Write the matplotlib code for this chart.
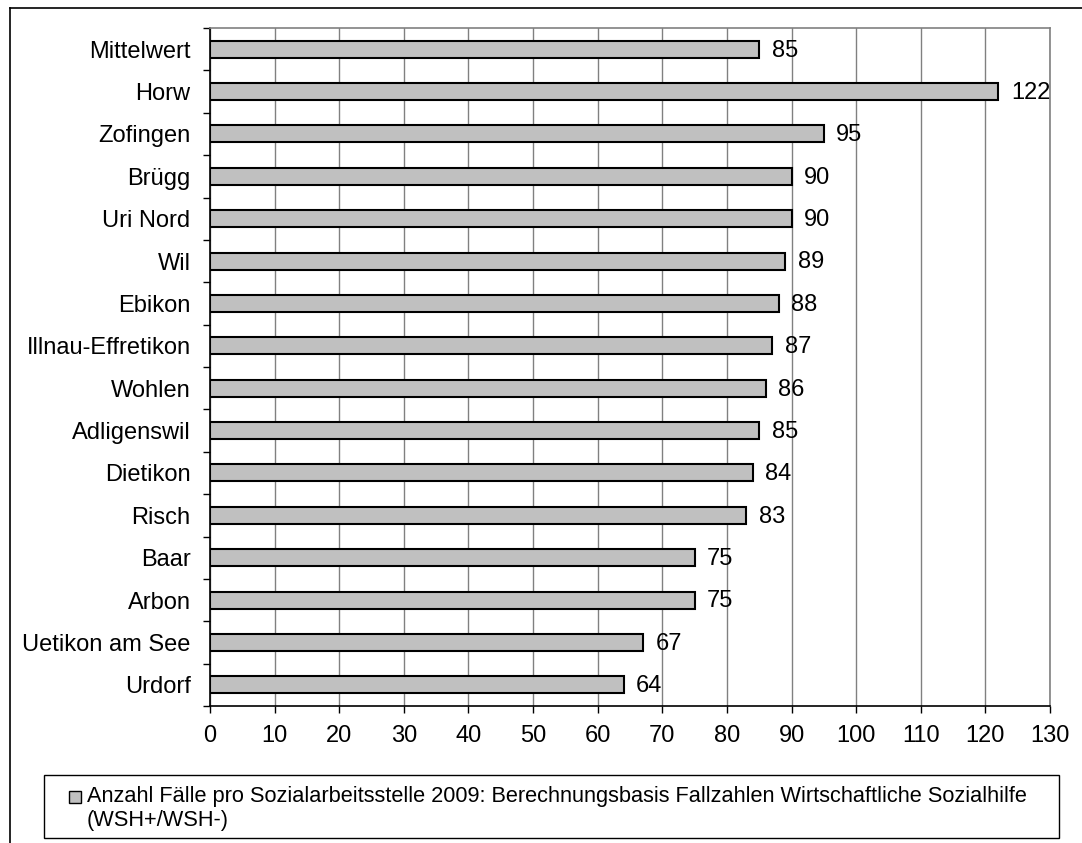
import matplotlib
matplotlib.use("Agg")
import matplotlib.pyplot as plt
from matplotlib.patches import Patch, Rectangle
from matplotlib.lines import Line2D
from matplotlib.legend_handler import HandlerPatch

plt.rcParams['font.family'] = ['Liberation Sans', 'DejaVu Sans']

categories = ["Mittelwert", "Horw", "Zofingen", "Brügg", "Uri Nord", "Wil", "Ebikon",
              "Illnau-Effretikon", "Wohlen", "Adligenswil", "Dietikon", "Risch",
              "Baar", "Arbon", "Uetikon am See", "Urdorf"]
values = [85, 122, 95, 90, 90, 89, 88, 87, 86, 85, 84, 83, 75, 75, 67, 64]
x_ticks = list(range(0, 131, 10))
series_label = ("Anzahl Fälle pro Sozialarbeitsstelle 2009: Berechnungsbasis Fallzahlen "
                "Wirtschaftliche Sozialhilfe\n(WSH+/WSH-)")

W, H = 1082, 843
FS = 17
LEG_FS = 15.7
fig = plt.figure(figsize=(W / 100, H / 100), dpi=100)
fig.patch.set_facecolor("white")

ax_l, ax_r, ax_t, ax_b = 210, 1050, 28, 706
ax = fig.add_axes([ax_l / W, 1 - ax_b / H, (ax_r - ax_l) / W, (ax_b - ax_t) / H])

ypos = list(range(len(categories)))
ax.barh(ypos, values, height=0.4, color="#C0C0C0", edgecolor="black", linewidth=1.5, zorder=3)

for y, v in zip(ypos, values):
    ax.annotate(f"{v}", xy=(v, y), xytext=(9, -1), textcoords="offset points",
                ha="left", va="center", fontsize=FS, color="black", zorder=4)

ax.set_xlim(0, 130)
ax.set_ylim(len(categories) - 0.5, -0.5)
ax.set_xticks(x_ticks)
ax.set_xticklabels([str(t) for t in x_ticks], fontsize=FS)
ax.set_yticks(ypos)
ax.set_yticklabels(categories, fontsize=FS)
ax.set_yticks([i - 0.5 for i in range(len(categories) + 1)], minor=True)

ax.tick_params(axis="y", which="major", length=0, pad=14)
ax.tick_params(axis="y", which="minor", length=5, width=1, color="black", direction="out")
ax.tick_params(axis="x", which="major", length=5, width=1, color="black", direction="out", pad=9)

ax.grid(axis="x", color="#808080", linewidth=1, zorder=0)
ax.set_axisbelow(True)

for side in ("left", "bottom"):
    ax.spines[side].set_color("black")
    ax.spines[side].set_linewidth(1.2)
for side in ("top", "right"):
    ax.spines[side].set_color("#808080")
    ax.spines[side].set_linewidth(1.2)

# outer chart frame (top and left edges)
fig.add_artist(Line2D([10 / W, 1.0], [1 - 7.5 / H, 1 - 7.5 / H], color="black", linewidth=1.2))
fig.add_artist(Line2D([10 / W, 10 / W], [1 - 7.5 / H, 0.0], color="black", linewidth=1.2))

# legend box
lx0, lx1, ly0, ly1 = 44, 1059, 775, 838
fig.add_artist(Rectangle((lx0 / W, 1 - ly1 / H), (lx1 - lx0) / W, (ly1 - ly0) / H,
                         facecolor="white", edgecolor="black", linewidth=1.0,
                         transform=fig.transFigure))


def square_marker(legend, orig_handle, xdescent, ydescent, width, height, fontsize):
    s = width
    return Rectangle((-xdescent, -ydescent + (height - s) / 2), s, s)


handle = Patch(facecolor="#C0C0C0", edgecolor="black", linewidth=1.0)
leg = fig.legend([handle], [series_label], loc="upper left",
                 bbox_to_anchor=(69 / W, 1 - 786 / H), frameon=False, fontsize=LEG_FS,
                 borderpad=0, borderaxespad=0, handlelength=0.56, handleheight=1.15,
                 handletextpad=0.25, labelspacing=0,
                 handler_map={Patch: HandlerPatch(patch_func=square_marker)})
for t in leg.get_texts():
    t.set_linespacing(1.17)
# keep the marker level with the first line of the wrapped label
for column in leg._legend_handle_box.get_children():
    for item in column.get_children():
        item.align = "top"

fig.savefig("out.png", dpi=100, facecolor="white")
